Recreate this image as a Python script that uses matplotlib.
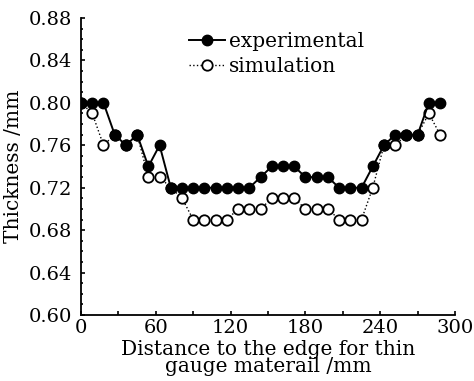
import numpy as np
import matplotlib.pyplot as plt
from matplotlib.ticker import MultipleLocator

distance = np.arange(0, 289, 9)
experimental = [0.80, 0.80, 0.80, 0.77, 0.76, 0.77, 0.74, 0.76, 0.72, 0.72,
                0.72, 0.72, 0.72, 0.72, 0.72, 0.72, 0.73, 0.74, 0.74, 0.74,
                0.73, 0.73, 0.73, 0.72, 0.72, 0.72, 0.74, 0.76, 0.77, 0.77,
                0.77, 0.80, 0.80]
simulation = [0.80, 0.79, 0.76, 0.77, 0.76, 0.77, 0.73, 0.73, 0.72, 0.71,
              0.69, 0.69, 0.69, 0.69, 0.70, 0.70, 0.70, 0.71, 0.71, 0.71,
              0.70, 0.70, 0.70, 0.69, 0.69, 0.69, 0.72, 0.76, 0.76, 0.77,
              0.77, 0.79, 0.77]

plt.rcParams['font.family'] = 'DejaVu Serif'

fig = plt.figure(figsize=(4.74, 3.81), dpi=100)
ax = fig.add_axes([0.171, 0.173, 0.789, 0.78])

# simulation first so the filled experimental dots sit on top
ax.plot(distance, simulation, ':o', color='black', lw=1.0,
        markersize=7.5, markerfacecolor='white', markeredgewidth=1.3,
        label='simulation', zorder=3)
ax.plot(distance, experimental, '-o', color='black', lw=1.4,
        markersize=7.5, markerfacecolor='black', label='experimental', zorder=4)

ax.set_xlim(0, 300)
ax.set_ylim(0.60, 0.88)
ax.xaxis.set_major_locator(MultipleLocator(60))
ax.xaxis.set_minor_locator(MultipleLocator(30))
ax.yaxis.set_major_locator(MultipleLocator(0.04))
ax.yaxis.set_minor_locator(MultipleLocator(0.01))
ax.yaxis.set_major_formatter(plt.FormatStrFormatter('%.2f'))
ax.tick_params(which='both', direction='in', labelsize=14, width=1.2)
ax.tick_params(which='major', length=3)
ax.tick_params(axis='x', which='minor', length=3)
ax.tick_params(axis='y', which='minor', length=1.5)
ax.tick_params(axis='x', pad=3)
ax.tick_params(axis='y', pad=6.5)

ax.spines['top'].set_visible(False)
ax.spines['right'].set_visible(False)
ax.spines['left'].set_linewidth(1.3)
ax.spines['bottom'].set_linewidth(1.3)

ax.set_xlabel('Distance to the edge for thin\ngauge materail /mm', fontsize=14.5,
              labelpad=2, linespacing=0.85)
ax.set_ylabel('Thickness /mm', fontsize=14.5, labelpad=4)

handles, labels = ax.get_legend_handles_labels()
ax.legend(handles[::-1], labels[::-1], loc='upper left',
          bbox_to_anchor=(0.25, 1.0), frameon=False,
          fontsize=14.5, handlelength=1.8, handletextpad=0.2,
          labelspacing=0.3, borderpad=0.2)

fig.savefig('out.png', dpi=100)
